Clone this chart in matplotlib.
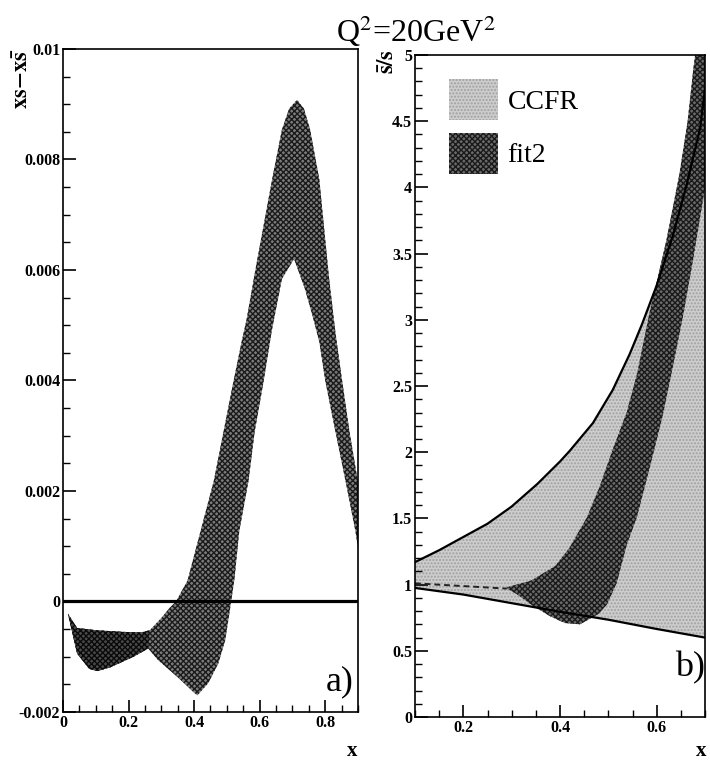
import numpy as np
import matplotlib
matplotlib.use("Agg")
import matplotlib.pyplot as plt
from matplotlib.patches import Patch
from matplotlib.ticker import MultipleLocator

plt.rcParams['font.family'] = ['Liberation Serif', 'DejaVu Serif']
plt.rcParams['hatch.linewidth'] = 1.0
plt.rcParams['mathtext.fontset'] = 'stix'

# ---- panel a) : xs - x sbar, fit2 band ----
a_up_x = [0.015, 0.043, 0.10, 0.18, 0.24, 0.265, 0.30, 0.325, 0.345, 0.38, 0.42, 0.46,
          0.49, 0.52, 0.545, 0.56, 0.59, 0.615, 0.64, 0.668, 0.69, 0.714, 0.735, 0.754,
          0.782, 0.797, 0.812, 0.831, 0.852, 0.874, 0.91]
a_up_y = [-0.00022, -0.00048, -0.00052, -0.00055, -0.00056, -0.00052, -0.00030, -0.00012,
          0.0, 0.00038, 0.00128, 0.00218, 0.00308, 0.00398, 0.00470, 0.00510, 0.00610,
          0.00690, 0.00770, 0.00854, 0.00892, 0.00908, 0.00892, 0.00854, 0.00764, 0.00674,
          0.00584, 0.00488, 0.00398, 0.00308, 0.00180]
a_lo_x = [0.015, 0.043, 0.08, 0.105, 0.145, 0.215, 0.26, 0.29, 0.35, 0.40, 0.41, 0.443,
          0.474, 0.495, 0.508, 0.523, 0.538, 0.566, 0.585, 0.612, 0.637, 0.668, 0.705,
          0.738, 0.76, 0.782, 0.80, 0.831, 0.862, 0.892, 0.91]
a_lo_y = [-0.00022, -0.00094, -0.00122, -0.00126, -0.00119, -0.00100, -0.00085, -0.00106,
          -0.00137, -0.00165, -0.00170, -0.00148, -0.00112, -0.00070, -0.00020, 0.00040,
          0.00128, 0.00218, 0.00308, 0.00398, 0.00490, 0.00584, 0.00620, 0.00566, 0.00520,
          0.00470, 0.00400, 0.00308, 0.00218, 0.00128, 0.00060]
a_dark_xmax = 0.265

# ---- panel b) : sbar/s, CCFR band and fit2 band ----
ccfr_up_x = [0.1, 0.15, 0.2, 0.25, 0.3, 0.353, 0.4, 0.42, 0.468, 0.509, 0.544, 0.57,
             0.6, 0.633, 0.662, 0.69, 0.70]
ccfr_up_y = [1.17, 1.26, 1.36, 1.46, 1.59, 1.76, 1.93, 2.01, 2.22, 2.47, 2.74, 2.97,
             3.26, 3.63, 4.02, 4.45, 4.75]
ccfr_lo_x = [0.1, 0.2, 0.3, 0.4, 0.5, 0.6, 0.7]
ccfr_lo_y = [0.975, 0.925, 0.86, 0.795, 0.735, 0.665, 0.60]

fit_up_x = [0.29, 0.34, 0.39, 0.42, 0.456, 0.482, 0.509, 0.538, 0.56, 0.585, 0.62,
            0.647, 0.664, 0.676, 0.69]
fit_up_y = [0.98, 1.03, 1.14, 1.28, 1.51, 1.74, 2.02, 2.30, 2.60, 3.05, 3.60, 4.10,
            4.50, 4.90, 5.30]
fit_lo_x = [0.29, 0.31, 0.344, 0.38, 0.41, 0.441, 0.456, 0.48, 0.497, 0.517, 0.538,
            0.559, 0.586, 0.612, 0.633, 0.654, 0.675, 0.70, 0.72]
fit_lo_y = [0.97, 0.93, 0.84, 0.76, 0.71, 0.70, 0.73, 0.78, 0.85, 1.01, 1.30, 1.51,
            1.89, 2.27, 2.64, 3.02, 3.45, 4.0, 4.5]
dash_x = [0.1, 0.29]
dash_y = [1.01, 0.97]

fig = plt.figure(figsize=(7.1, 7.65), dpi=100)
ax1 = fig.add_axes([0.0887, 0.0693, 0.4155, 0.8667])
ax2 = fig.add_axes([0.5845, 0.0627, 0.4085, 0.8654])

fit_face = '#7c7c7c'
fit_hatch = '#1a1a1a'
ccfr_face = '#cdcdcd'
ccfr_hatch = '#a0a0a0'

# panel a
ax1.fill(np.r_[a_up_x, a_lo_x[::-1]], np.r_[a_up_y, a_lo_y[::-1]],
         facecolor=fit_face, edgecolor=fit_hatch, hatch='xxxxxx', linewidth=0)
ux = np.array(a_up_x); uy = np.array(a_up_y)
lx = np.array(a_lo_x); ly = np.array(a_lo_y)
mu = ux <= a_dark_xmax
ml = lx <= a_dark_xmax
ax1.fill(np.r_[ux[mu], lx[ml][::-1]], np.r_[uy[mu], ly[ml][::-1]],
         facecolor='#4a4a4a', edgecolor='#0a0a0a', hatch='xxxxxx', linewidth=0)
ax1.axhline(0, color='black', lw=2.3)
ax1.set_xlim(0, 0.9)
ax1.set_ylim(-0.002, 0.01)
ax1.yaxis.set_minor_locator(MultipleLocator(0.0005))
ax1.xaxis.set_minor_locator(MultipleLocator(0.05))
ax1.set_yticks([-0.002, 0, 0.002, 0.004, 0.006, 0.008, 0.01])
ax1.set_yticklabels(['-0.002', '0', '0.002', '0.004', '0.006', '0.008', '0.01'])
ax1.set_xticks([0, 0.2, 0.4, 0.6, 0.8])
ax1.set_xticklabels(['0', '0.2', '0.4', '0.6', '0.8'])
ax1.text(0.985, 0.045, 'a)', transform=ax1.transAxes, ha='right', va='center', fontsize=26)
ax1.text(-0.135, 1.0, r'$\mathbf{xs\!-\!x\bar{s}}$', transform=ax1.transAxes,
         rotation=90, ha='center', va='top', fontsize=16)

# panel b
ax2.fill(np.r_[ccfr_up_x, [0.72, 0.72], ccfr_lo_x[::-1]],
         np.r_[ccfr_up_y, [5.5, 0.58], ccfr_lo_y[::-1]],
         facecolor=ccfr_face, edgecolor=ccfr_hatch, hatch='.....', linewidth=0)
ax2.fill(np.r_[fit_up_x, fit_lo_x[::-1]], np.r_[fit_up_y, fit_lo_y[::-1]],
         facecolor='#6a6a6a', edgecolor=fit_hatch, hatch='xxxxxx', linewidth=0)
ax2.plot(ccfr_up_x, ccfr_up_y, color='black', lw=1.6)
ax2.plot(ccfr_lo_x, ccfr_lo_y, color='black', lw=1.6)
ax2.plot(dash_x, dash_y, color='#222222', lw=1.4, ls=(0, (3, 2)))
ax2.set_xlim(0.1, 0.7)
ax2.set_ylim(0, 5)
ax2.yaxis.set_minor_locator(MultipleLocator(0.1))
ax2.xaxis.set_minor_locator(MultipleLocator(0.05))
ax2.set_xticks([0.2, 0.4, 0.6])
ax2.set_xticklabels(['0.2', '0.4', '0.6'])
ax2.set_yticks([0, 0.5, 1, 1.5, 2, 2.5, 3, 3.5, 4, 4.5, 5])
ax2.set_yticklabels(['0', '0.5', '1', '1.5', '2', '2.5', '3', '3.5', '4', '4.5', '5'])
ax2.text(1.0, 0.075, 'b)', transform=ax2.transAxes, ha='right', va='center', fontsize=26)

handles = [Patch(facecolor=ccfr_face, edgecolor=ccfr_hatch, hatch='.....', lw=0, label='CCFR'),
           Patch(facecolor='#6a6a6a', edgecolor=fit_hatch, hatch='xxxxxx', lw=0, label='fit2')]
ax2.legend(handles=handles, loc='upper left', bbox_to_anchor=(0.08, 0.98), frameon=False,
           fontsize=20, handlelength=1.75, handleheight=1.9, handletextpad=0.35,
           labelspacing=0.45, borderaxespad=0)

for ax in (ax1, ax2):
    ax.tick_params(which='both', direction='in', top=False, right=False, pad=2)
    ax.tick_params(which='major', length=9, width=1.2, labelsize=11.5)
    ax.tick_params(which='minor', length=5, width=1.0)
    for lab in ax.get_xticklabels() + ax.get_yticklabels():
        lab.set_fontweight('bold')
    for sp in ax.spines.values():
        sp.set_linewidth(1.2)

fig.text(0.586, 0.959, r'Q$^2$=20GeV$^2$', ha='center', va='center', fontsize=23)
fig.text(0.546, 0.936, r'$\mathbf{\bar{s}/s}$', rotation=90, ha='center', va='top', fontsize=16)
fig.text(0.496, 0.018, 'x', ha='center', va='center', fontsize=15, fontweight='bold')
fig.text(0.988, 0.018, 'x', ha='center', va='center', fontsize=15, fontweight='bold')

fig.savefig('out.png', dpi=100)
